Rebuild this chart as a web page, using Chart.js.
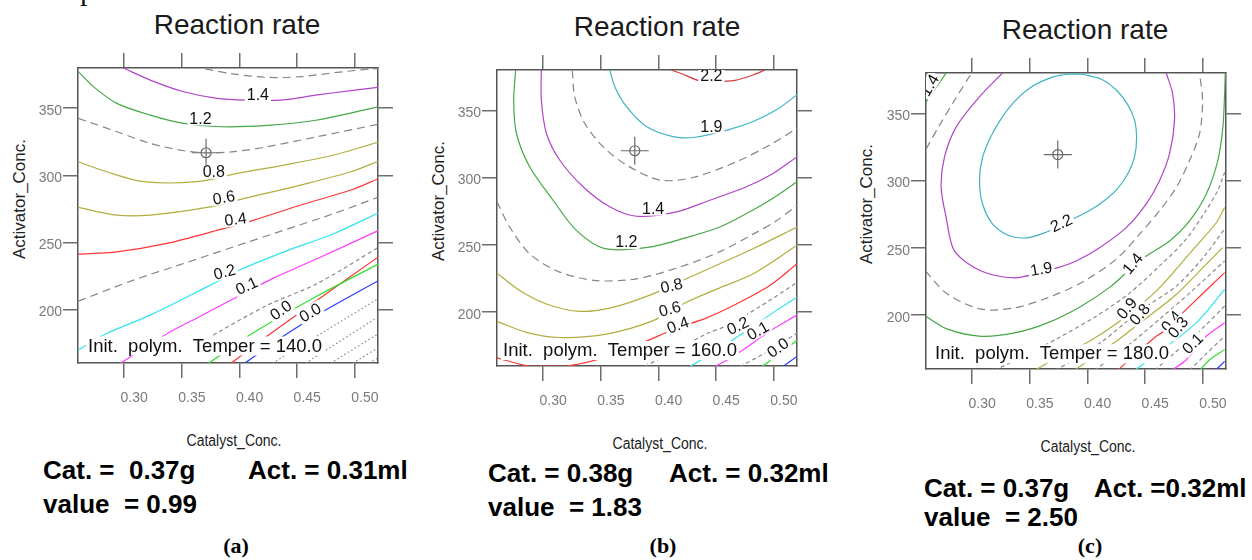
<!DOCTYPE html>
<html><head><meta charset="utf-8">
<script src="https://cdn.jsdelivr.net/npm/chart.js@4.4.0/dist/chart.umd.min.js"></script>
<style>
html,body{margin:0;padding:0;background:#fff;width:1252px;height:560px;overflow:hidden;position:relative;font-family:"Liberation Sans",Arial,sans-serif;}
canvas{position:absolute;top:0;}
.t{position:absolute;white-space:pre;line-height:1;color:#111;}
.ttl{font-size:28px;color:#1a1a1a;transform:translateX(-50%);}
.yt{font-size:17px;color:#222;transform:translate(-50%,-50%) rotate(-90deg);}
.xt{font-size:16px;color:#222;transform:translateX(-50%) scaleX(0.875);}
.ann{font-weight:bold;font-size:26px;color:#000;}
.cap{font-family:"Liberation Serif","Times New Roman",serif;font-weight:bold;font-size:22px;color:#000;transform:translateX(-50%);}
</style></head><body>
<div class="t" style="left:80px;top:-25px;font-family:'Liberation Serif',serif;font-size:30px;">p</div>

<div class="t ttl" style="left:237px;top:11px;">Reaction rate</div>
<div class="t ttl" style="left:657px;top:13px;">Reaction rate</div>
<div class="t ttl" style="left:1085px;top:16px;">Reaction rate</div>

<div class="t yt" style="left:19px;top:199px;">Activator_Conc.</div>
<div class="t yt" style="left:438px;top:201px;">Activator_Conc.</div>
<div class="t yt" style="left:866px;top:204px;">Activator_Conc.</div>

<div class="t xt" style="left:234px;top:433px;">Catalyst_Conc.</div>
<div class="t xt" style="left:660px;top:436px;">Catalyst_Conc.</div>
<div class="t xt" style="left:1088px;top:439px;">Catalyst_Conc.</div>

<div class="t ann" style="left:43px;top:457px;">Cat. =  0.37g</div>
<div class="t ann" style="left:248px;top:457px;">Act. = 0.31ml</div>
<div class="t ann" style="left:43px;top:491px;">value  = 0.99</div>

<div class="t ann" style="left:488px;top:460px;">Cat. = 0.38g</div>
<div class="t ann" style="left:669px;top:460px;">Act. = 0.32ml</div>
<div class="t ann" style="left:488px;top:494px;">value  = 1.83</div>

<div class="t ann" style="left:924px;top:475px;">Cat. = 0.37g</div>
<div class="t ann" style="left:1094px;top:475px;">Act. =0.32ml</div>
<div class="t ann" style="left:924px;top:504px;">value  = 2.50</div>

<div class="t cap" style="left:236px;top:535px;">(a)</div>
<div class="t cap" style="left:663px;top:535px;">(b)</div>
<div class="t cap" style="left:1090px;top:535px;">(c)</div>

<canvas id="cA"></canvas>
<canvas id="cB"></canvas>
<canvas id="cC"></canvas>

<script>
// ---------- axes ----------
const catTicks = [0.30, 0.35, 0.40, 0.45, 0.50];
const actTicks = [200, 250, 300, 350];
const catRange = [0.26, 0.52];
const actRange = [160, 380];

// ---------- panel (a): Temper = 140.0 ----------
const a_r15 = [[0.3704,379.3],[0.3951,375.5],[0.4241,373.0],[0.4530,373.5],[0.4820,376.5],[0.5139,379.3],[0.5212,379.6]];
const a_r14 = [[0.2994,380.0],[0.3226,371.0],[0.3516,362.3],[0.3806,357.4],[0.4067,356.1],[0.4357,356.1],[0.4675,359.9],[0.4965,363.1],[0.5212,365.6]];
const a_r12 = [[0.2603,377.3],[0.2733,366.1],[0.2936,353.6],[0.3226,344.9],[0.3516,338.7],[0.3835,336.2],[0.4241,337.2],[0.4675,341.2],[0.5212,351.3]];
const a_r10 = [[0.2603,342.4],[0.2936,332.5],[0.3226,323.8],[0.3516,318.3],[0.3704,316.8],[0.3951,317.6],[0.4241,321.3],[0.4675,328.8],[0.5212,338.2]];
const a_r08 = [[0.2603,310.1],[0.2849,302.6],[0.3168,295.2],[0.3632,295.2],[0.3980,301.4],[0.4386,307.6],[0.4820,315.1],[0.5212,325.0]];
const a_r06 = [[0.2603,276.0],[0.2936,270.3],[0.3226,270.3],[0.3719,276.0],[0.4081,283.5],[0.4530,292.7],[0.4965,302.6],[0.5212,310.8]];
const a_r04 = [[0.2603,241.2],[0.2936,242.9],[0.3371,249.2],[0.3835,259.6],[0.4125,266.6],[0.4530,277.8],[0.4965,289.0],[0.5212,297.7]];
const a_r03 = [[0.2603,206.1],[0.3081,221.8],[0.3516,234.2],[0.3951,246.7],[0.4386,259.1],[0.4820,271.5],[0.5212,284.0]];
const a_r02 = [[0.2600,169.5],[0.2849,182.0],[0.3226,195.7],[0.3748,218.1],[0.4009,229.7],[0.4386,242.9],[0.4820,256.6],[0.5212,272.3]];
const a_r01 = [[0.2965,159.6],[0.3386,182.5],[0.3661,194.9],[0.3951,208.1],[0.4299,223.5],[0.4675,237.9],[0.5212,259.1]];
const a_r005 = [[0.3720,178.0],[0.3820,183.2],[0.4241,203.1],[0.4675,219.3],[0.5212,246.7]];
const a_r00g = [[0.3719,159.1],[0.4110,182.0],[0.4661,209.4],[0.5212,234.2]];
const a_r00r = [[0.3916,159.1],[0.4270,182.0],[0.4675,206.9],[0.5212,239.7]];
const a_r00b = [[0.4032,159.1],[0.4414,182.0],[0.4719,198.2],[0.5212,221.8]];
const a_d1 = [[0.4287,160.0],[0.5210,208.4]];
const a_d2 = [[0.4574,160.0],[0.5210,194.9]];
const a_d3 = [[0.4791,160.0],[0.5210,182.2]];
const a_d4 = [[0.4983,160.0],[0.5210,171.8]];
const a_d5 = [[0.5122,160.0],[0.5210,164.3]];
const a_labels = [["1.4",0.4159,359.9,0],["1.2",0.3661,342.4,0],["0.8",0.3777,302.6,0],["0.6",0.3864,283.5,-10],["0.4",0.3965,267.3,-8],["0.2",0.3870,228.0,-15],["0.1",0.4061,217.6,-25],["0.0",0.4357,199.4,-35],["0.0",0.4612,197.7,-30]];
const a_opt = [[0.3710,316.8]];
const a_temp = "Init.  polym.  Temper = 140.0";

// ---------- panel (b): Temper = 160.0 ----------
const b_r22 = [[0.4112,380.0],[0.4242,375.8],[0.4343,372.3],[0.4500,371.5],[0.4661,372.3],[0.4820,376.3],[0.4921,380.0]];
const b_r19 = [[0.3577,380.0],[0.3620,367.8],[0.3721,352.9],[0.3895,338.0],[0.4126,330.5],[0.4314,330.0],[0.4603,335.5],[0.4820,341.7],[0.5022,350.4],[0.5201,361.6]];
const b_r16 = [[0.3253,379.5],[0.3273,360.3],[0.3360,340.4],[0.3519,323.0],[0.3721,309.4],[0.4010,298.2],[0.4299,300.1],[0.4675,311.8],[0.4964,324.3],[0.5201,336.7]];
const b_r14 = [[0.2984,380.0],[0.2984,357.9],[0.3028,333.0],[0.3143,313.1],[0.3346,293.2],[0.3577,278.3],[0.3808,271.3],[0.4155,274.5],[0.4444,283.2],[0.4762,293.2],[0.4993,303.1],[0.5201,315.6]];
const b_r12 = [[0.2762,380.0],[0.2745,357.9],[0.2768,333.0],[0.2883,308.1],[0.3086,283.2],[0.3288,260.8],[0.3534,247.2],[0.3924,248.4],[0.4242,255.4],[0.4531,263.3],[0.4762,273.3],[0.4964,283.2],[0.5201,296.9]];
const b_r10 = [[0.2600,282.0],[0.2710,263.3],[0.2883,243.4],[0.3143,229.8],[0.3461,223.5],[0.3808,224.8],[0.4184,233.5],[0.4531,245.0],[0.4820,258.0],[0.5022,268.0],[0.5201,279.5]];
const b_r08 = [[0.2600,229.0],[0.2797,216.1],[0.3028,206.1],[0.3317,200.6],[0.3606,203.6],[0.3953,213.6],[0.4242,224.8],[0.4531,236.0],[0.4820,247.2],[0.5201,263.3]];
const b_r06 = [[0.2600,193.2],[0.2854,185.0],[0.3143,181.2],[0.3548,183.7],[0.3953,193.7],[0.4242,207.4],[0.4531,218.1],[0.4820,228.5],[0.5201,249.7]];
const b_r04 = [[0.2600,166.1],[0.2884,159.8],[0.3187,159.8],[0.3490,165.3],[0.3837,176.5],[0.4167,188.4],[0.4401,195.2],[0.4675,206.1],[0.4964,219.8],[0.5201,236.0]];
const b_r03 = [[0.3881,159.6],[0.4418,184.0],[0.4591,190.0],[0.4877,204.1],[0.5199,222.0]];
const b_r02 = [[0.4271,159.6],[0.4531,172.9],[0.4687,181.9],[0.4834,190.1],[0.5008,200.6],[0.5199,211.0]];
const b_r01 = [[0.4487,159.6],[0.4617,165.6],[0.4765,173.9],[0.4947,185.1],[0.5199,197.8]];
const b_r005 = [[0.4705,159.6],[0.4965,171.6],[0.5199,184.3]];
const b_r00g = [[0.4896,159.6],[0.5052,169.3],[0.5199,179.1]];
const b_r00b = [[0.5078,159.6],[0.5199,167.1]];
const b_labels = [["2.2",0.4458,375.8,0],["1.9",0.4458,338.0,0],["1.4",0.3953,277.0,0],["1.2",0.3721,252.1,0],["0.8",0.4112,219.8,-12],["0.6",0.4097,202.4,-15],["0.4",0.4167,190.5,-20],["0.2",0.4687,190.0,-25],["0.1",0.4860,186.3,-30],["0.0",0.5033,173.6,-35]];
const b_opt = [[0.3794,320.0]];
const b_temp = "Init.  polym.  Temper = 160.0";

// ---------- panel (c): Temper = 180.0 ----------
const c_r22 = [[0.3956,379.1],[0.4121,375.4],[0.4251,367.2],[0.4347,356.7],[0.4408,344.8],[0.4425,331.3],[0.4408,317.9],[0.4355,306.0],[0.4260,294.0],[0.4156,285.8],[0.4043,279.1],[0.3930,273.9],[0.3774,267.2],[0.3627,261.2],[0.3471,257.5],[0.3323,259.0],[0.3176,267.9],[0.3090,282.8],[0.3064,300.0],[0.3090,317.2],[0.3176,335.1],[0.3323,354.5],[0.3497,368.7],[0.3696,376.9],[0.3844,379.1],[0.3956,379.1]];
const c_r19 = [[0.3263,380.0],[0.3063,362.2],[0.2861,339.8],[0.2760,317.4],[0.2731,295.0],[0.2775,272.6],[0.2847,247.8],[0.3078,232.8],[0.3367,227.8],[0.3598,232.0],[0.3742,235.3],[0.3902,240.3],[0.4104,250.2],[0.4335,265.1],[0.4509,282.8],[0.4624,300.0],[0.4711,320.1],[0.4754,344.8],[0.4737,364.9],[0.4682,380.0]];
const c_r165 = [[0.2595,232.8],[0.2786,215.7],[0.3078,204.5],[0.3367,205.4],[0.3653,212.9],[0.3945,224.1],[0.4249,241.6],[0.4451,260.2],[0.4624,277.6],[0.4769,295.0],[0.4884,314.9],[0.4971,335.1],[0.4997,359.7],[0.4971,379.5]];
const c_r165t = [[0.2601,323.6],[0.2716,341.0],[0.2847,359.7],[0.2991,379.5]];
const c_r14 = [[0.2595,199.3],[0.2786,189.6],[0.3078,184.3],[0.3367,186.8],[0.3653,194.3],[0.3945,206.7],[0.4205,221.6],[0.4390,236.0],[0.4509,244.0],[0.4711,255.2],[0.4884,270.1],[0.5029,290.1],[0.5129,314.9],[0.5173,339.8],[0.5188,364.7],[0.5194,380.0]];
const c_r14t = [[0.2595,357.8],[0.2775,380.0]];
const c_r115 = [[0.3193,159.0],[0.3497,171.6],[0.3757,183.6],[0.4061,198.5],[0.4364,216.4],[0.4624,236.6],[0.4841,255.2],[0.5014,276.1],[0.5127,292.5],[0.5188,306.0]];
const c_r09 = [[0.3540,159.0],[0.3757,169.4],[0.4017,180.6],[0.4277,195.5],[0.4595,217.9],[0.4942,251.5],[0.5116,268.7],[0.5188,280.1]];
const c_r085 = [[0.3722,159.0],[0.3930,169.4],[0.4130,180.6],[0.4451,203.0],[0.4769,221.6],[0.5014,244.0],[0.5188,264.2]];
const c_r08 = [[0.3887,159.0],[0.4061,169.4],[0.4249,180.6],[0.4451,194.0],[0.4754,214.2],[0.4971,232.8],[0.5170,250.2]];
const c_r07 = [[0.4061,159.0],[0.4364,178.4],[0.4624,197.0],[0.4884,216.4],[0.5188,240.3]];
const c_r04 = [[0.4260,159.0],[0.4595,184.3],[0.4650,187.3],[0.4856,204.3],[0.5188,231.6]];
const c_r03 = [[0.4408,159.0],[0.4494,164.4],[0.4942,194.3],[0.5188,219.2]];
const c_r02 = [[0.4581,159.0],[0.4841,178.4],[0.5014,191.8],[0.5188,206.7]];
const c_r01 = [[0.4728,159.0],[0.4856,166.9],[0.5029,184.3],[0.5188,194.3]];
const c_r005 = [[0.4884,159.0],[0.5032,171.6],[0.5188,184.3]];
const c_r00g = [[0.4971,159.0],[0.5058,166.9],[0.5188,174.4]];
const c_r00b = [[0.5101,159.0],[0.5129,160.7],[0.5188,165.7]];
const c_labels = [["1.4",0.2630,370.9,-60],["2.2",0.3772,268.5,-25],["1.9",0.3598,234.5,-10],["1.4",0.4390,238.5,-50],["0.9",0.4339,205.2,-50],["0.8",0.4451,200.7,-50],["0.4",0.4725,195.5,-50],["0.3",0.4783,191.0,-50],["0.1",0.4910,179.0,-45]];
const c_opt = [[0.3742,319.4]];
const c_temp = "Init.  polym.  Temper = 180.0";

// ---------- styles ----------
const FONT = '"Liberation Sans", Arial, sans-serif';
const ST = {
  gray:   {c:'#858585', d:[8,5]},
  grayS:  {c:'#8a8a8a', d:[4,3]},
  dot:    {c:'#8a8a8a', d:[1.5,2.5]},
  violet: {c:'#b044c8', d:[]},
  green:  {c:'#45a845', d:[]},
  olive:  {c:'#b2ae3e', d:[]},
  red:    {c:'#ff3535', d:[]},
  cyan:   {c:'#2ee4f0', d:[]},
  teal:   {c:'#3fb2c4', d:[]},
  mag:    {c:'#ff3cff', d:[]},
  lime:   {c:'#30de30', d:[]},
  blue:   {c:'#2b3cff', d:[]},
  dred:   {c:'#d33c3c', d:[]}
};

function lineDs(data, s) {
  const st = ST[s];
  return {type:'scatter', data:data, showLine:true, borderColor:st.c, borderWidth:1.2,
          borderDash:st.d, pointRadius:0, tension:0.3, fill:false};
}
function markerDs(data) {
  return [
    {type:'scatter', data:data, showLine:false, pointStyle:'circle', pointRadius:5, borderColor:'#6a6a6a', backgroundColor:'rgba(0,0,0,0)', borderWidth:1.2},
    {type:'scatter', data:data, showLine:false, pointStyle:'cross', pointRadius:14, borderColor:'#6a6a6a', borderWidth:1.2}
  ];
}

const labelPlugin = {
  id:'contourLabels',
  afterDatasetsDraw(chart, args, opts) {
    const {ctx, chartArea:ca, scales} = chart;
    const x = scales.x, y = scales.y;
    ctx.save();
    ctx.beginPath(); ctx.rect(ca.left, ca.top, ca.right-ca.left, ca.bottom-ca.top); ctx.clip();
    ctx.font = '16px ' + FONT;
    ctx.textAlign = 'center'; ctx.textBaseline = 'middle';
    for (const [txt, vx, vy, rot] of opts.labels) {
      const px = x.getPixelForValue(vx), py = y.getPixelForValue(vy);
      ctx.save(); ctx.translate(px, py); ctx.rotate(rot*Math.PI/180);
      const w = ctx.measureText(txt).width;
      ctx.fillStyle = '#fff'; ctx.fillRect(-w/2-2, -7, w+4, 14);
      ctx.fillStyle = '#111'; ctx.fillText(txt, 0, 1);
      ctx.restore();
    }
    ctx.font = '18.5px ' + FONT;
    ctx.textAlign = 'left'; ctx.textBaseline = 'alphabetic';
    const tx = ca.left + opts.tdx, ty = ca.bottom - opts.tdy;
    const tw = ctx.measureText(opts.temp).width;
    ctx.fillStyle = '#fff'; ctx.fillRect(tx-2, ty-15, tw+4, 19);
    ctx.fillStyle = '#111'; ctx.fillText(opts.temp, tx, ty);
    ctx.restore();
  }
};

function axis(pos, range, ticks, sizeFn, showLabels, fmt) {
  return {
    type:'linear', position:pos, min:range[0], max:range[1],
    afterBuildTicks: s => { s.ticks = ticks.map(v => ({value:v})); },
    afterFit: sizeFn,
    grid:{drawOnChartArea:false, drawTicks:true, tickLength:15, color:'#6e6e6e', lineWidth:1.5},
    border:{display:true, color:'#555', width:1.5},
    ticks:{display:showLabels, color:'#7a7a7a', font:{family:FONT, size:14}, autoSkip:false, maxRotation:0, callback: fmt}
  };
}

function makePanel(id, box, W, H, sets, labels, opt, temp, tdx, tdy) {
  const cv = document.getElementById(id);
  cv.width = W; cv.height = H;
  cv.style.left = (box.left - 78) + 'px';
  cv.style.width = W + 'px'; cv.style.height = H + 'px';
  const datasets = sets.map(([d, s]) => lineDs(d, s)).concat(markerDs(opt));
  const xa = axis('bottom', catRange, catTicks, s => { s.height = H - box.bottom; }, true, v => Number(v).toFixed(2));
  xa.ticks.padding = 12; xa.ticks.labelOffset = 10;
  const xb = axis('top', catRange, catTicks, s => { s.height = box.top; }, false, v => '');
  const ya = axis('left', actRange, actTicks, s => { s.width = 78; }, true, v => String(v));
  ya.ticks.padding = 1; ya.ticks.labelOffset = 3;
  const yb = axis('right', actRange, actTicks, s => { s.width = W - 378; }, false, v => '');
  new Chart(cv, {
    type:'scatter',
    data:{datasets},
    options:{
      responsive:false, animation:false, devicePixelRatio:1,
      layout:{padding:0},
      plugins:{legend:{display:false}, tooltip:{enabled:false},
               contourLabels:{labels, temp, tdx, tdy}},
      scales:{x:xa, x2:xb, y:ya, y2:yb}
    },
    plugins:[labelPlugin]
  });
}

makePanel('cA', {left:78, top:68, bottom:363}, 420, 420, [
  [a_r15,'gray'],[a_r14,'violet'],[a_r12,'green'],[a_r10,'gray'],[a_r08,'olive'],[a_r06,'olive'],
  [a_r04,'red'],[a_r03,'gray'],[a_r02,'cyan'],[a_r01,'mag'],[a_r005,'grayS'],
  [a_r00g,'lime'],[a_r00r,'red'],[a_r00b,'blue'],
  [a_d1,'dot'],[a_d2,'dot'],[a_d3,'dot'],[a_d4,'dot'],[a_d5,'dot']
], a_labels, a_opt, a_temp, 10, 11.5);

makePanel('cB', {left:497, top:70, bottom:366}, 420, 420, [
  [b_r22,'dred'],[b_r19,'teal'],[b_r16,'gray'],[b_r14,'violet'],[b_r12,'green'],[b_r10,'gray'],
  [b_r08,'olive'],[b_r06,'olive'],[b_r04,'red'],[b_r03,'grayS'],[b_r02,'cyan'],[b_r01,'mag'],
  [b_r005,'grayS'],[b_r00g,'lime'],[b_r00b,'blue']
], b_labels, b_opt, b_temp, 6, 10);

makePanel('cC', {left:926, top:73, bottom:369}, 404, 420, [
  [c_r22,'teal'],[c_r19,'violet'],[c_r165,'gray'],[c_r165t,'gray'],[c_r14,'green'],[c_r14t,'green'],
  [c_r115,'grayS'],[c_r09,'olive'],[c_r085,'grayS'],[c_r08,'olive'],[c_r07,'grayS'],
  [c_r04,'red'],[c_r03,'cyan'],[c_r02,'grayS'],[c_r01,'mag'],[c_r005,'grayS'],[c_r00g,'lime'],[c_r00b,'blue']
], c_labels, c_opt, c_temp, 9, 9.7);
</script>
</body></html>
